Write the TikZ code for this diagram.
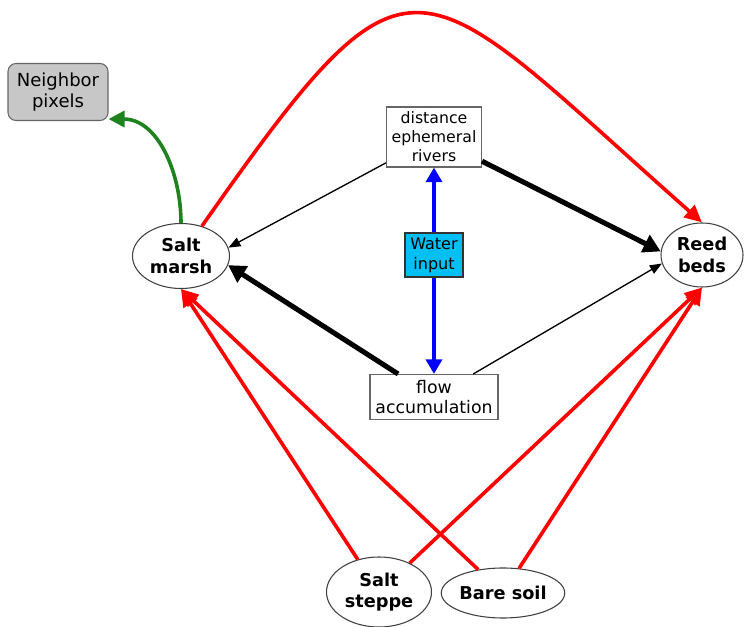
\documentclass[tikz,border=0pt]{standalone}
\usepackage{fontspec}
\setmainfont{DejaVu Sans}
\usetikzlibrary{arrows.meta,shapes.geometric}

\definecolor{waterblue}{RGB}{0,191,243}
\definecolor{nbgreen}{RGB}{30,130,30}
\tikzset{every node/.style={align=center}}
\tikzstyle{cover} = [draw=black!75,line width=0.8pt,ellipse,inner sep=0pt,font=\fontsize{13.3}{16}\selectfont\bfseries]
\tikzstyle{var} = [draw=black!60,line width=0.8pt,rectangle,inner sep=0pt]
\tikzstyle{redarr} = [draw=red,line width=2.7pt,-{Triangle[length=13pt,width=12pt]}]
\tikzstyle{bluearr} = [draw=blue,line width=2.7pt,-{Triangle[length=11pt,width=12pt]}]
\tikzstyle{strong} = [draw,line width=3.8pt,-{Triangle[length=13pt,width=14pt]}]
\tikzstyle{weak} = [draw,line width=1pt,-{Triangle[length=9pt,width=7pt]}]

\begin{document}
\begin{tikzpicture}[x=0.75pt,y=-0.75pt]
\useasboundingbox (0,0) rectangle (744,627);
% land covers
\node[cover,minimum width=72.75pt,minimum height=48.75pt] (sm) at (181,256) {Salt\\marsh};
\node[cover,minimum width=61.5pt,minimum height=48pt] (rb) at (702,255) {Reed\\beds};
\node[cover,minimum width=78.75pt,minimum height=52.5pt] (ss) at (379,592) {Salt\\steppe};
\node[cover,minimum width=82.5pt,minimum height=37.5pt] (bs) at (503,593) {Bare soil};
% drivers
\node[var,rounded corners=6pt,fill=black!22,minimum width=75pt,minimum height=42.75pt,font=\fontsize{13.5}{16}\selectfont] (nb) at (58,92) {Neighbor\\pixels};
\node[var,minimum width=71.25pt,minimum height=45pt,font=\fontsize{11.8}{14.3}\selectfont] (dr) at (434,137) {distance\\ephemeral\\rivers};
\node[var,draw=black!80,fill=waterblue,minimum width=43.5pt,minimum height=33pt,font=\fontsize{12}{15}\selectfont] (wi) at (434,255) {Water\\input};
\node[var,minimum width=96pt,minimum height=33.75pt,font=\fontsize{13}{15.5}\selectfont] (fa) at (434,397) {flow\\accumulation};

\draw [redarr] (sm) .. controls (415,-78) and (412,-34) .. (rb.north);
\draw [nbgreen,line width=2.7pt,-{Triangle[length=12pt,width=12pt]}] (sm.north) to[out=90,in=0] ([yshift=1.5pt]nb.south east);
\draw [bluearr] (wi) -- (dr);
\draw [bluearr] (wi) -- (fa);
\draw [weak] (dr) -- (sm.10);
\draw [strong] (dr) -- (rb.175);
\draw [strong] (fa) -- (sm.-11);
\draw [weak] (fa) -- (rb.-168);
\draw [redarr] (ss) -- (sm.south);
\draw [redarr] (bs) -- (sm.south);
\draw [redarr] (ss) -- (rb.south);
\draw [redarr] (bs) -- (rb.south);
\end{tikzpicture}
\end{document}
